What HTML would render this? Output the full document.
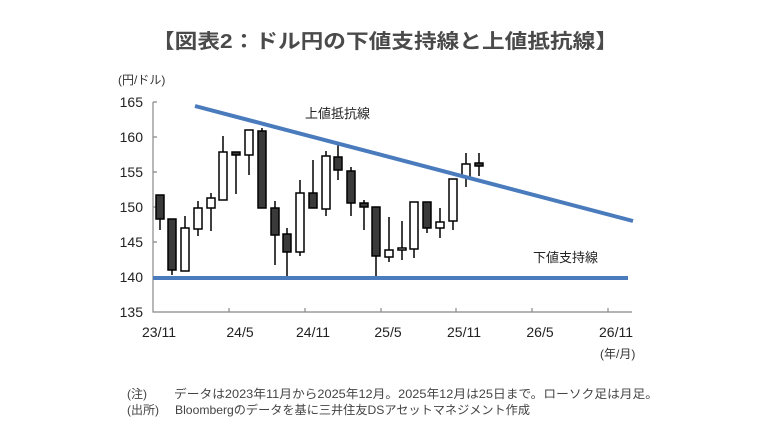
<!DOCTYPE html>
<html><head><meta charset="utf-8"><style>
html,body{margin:0;padding:0;background:#fff;}
svg{display:block;font-family:"Liberation Sans","Noto Sans CJK JP",sans-serif;}
</style></head><body>
<svg width="770" height="433" viewBox="0 0 770 433" xmlns="http://www.w3.org/2000/svg">
<rect width="770" height="433" fill="#fff"/>
<text x="385" y="48" text-anchor="middle" font-size="20" font-weight="bold" fill="#4a4a4a" textLength="466" lengthAdjust="spacingAndGlyphs">【図表2：ドル円の下値支持線と上値抵抗線】</text>
<text x="118" y="84" font-size="12" fill="#333">(円/ドル)</text>
<g font-size="14" fill="#222" text-anchor="end">
<text x="143" y="107">165</text><text x="143" y="142">160</text><text x="143" y="177">155</text>
<text x="143" y="212">150</text><text x="143" y="247">145</text><text x="143" y="282">140</text><text x="143" y="317">135</text>
</g>
<g stroke="#888" stroke-width="1.2" fill="none">
<path d="M153 102 V312 H632"/>
<path d="M153 102 h4 M153 137 h4 M153 172 h4 M153 207 h4 M153 242 h4 M153 277 h4"/>
<path d="M229 312 v-4 M305 312 v-4 M381 312 v-4 M456 312 v-4 M532 312 v-4 M608 312 v-4"/>
</g>
<g font-size="14" fill="#222" text-anchor="middle">
<text x="159" y="337">23/11</text><text x="240" y="337">24/5</text><text x="313" y="337">24/11</text>
<text x="388" y="337">25/5</text><text x="464" y="337">25/11</text><text x="540" y="337">26/5</text><text x="616" y="337">26/11</text>
</g>
<text x="600" y="358" font-size="12" fill="#333">(年/月)</text>
<g stroke="#000" stroke-width="1.5">
<line x1="160" y1="195" x2="160" y2="230"/><rect x="156" y="195" width="8" height="24" fill="#3a3a3a"/>
<line x1="172" y1="219" x2="172" y2="275"/><rect x="168" y="219" width="8" height="51" fill="#3a3a3a"/>
<line x1="185" y1="216" x2="185" y2="271"/><rect x="181" y="228" width="8" height="43" fill="#fff"/>
<line x1="198" y1="201" x2="198" y2="236"/><rect x="194" y="208" width="8" height="21" fill="#fff"/>
<line x1="211" y1="193" x2="211" y2="231"/><rect x="207" y="198" width="8" height="10" fill="#fff"/>
<line x1="223" y1="136" x2="223" y2="200"/><rect x="219" y="152" width="8" height="48" fill="#fff"/>
<line x1="236" y1="152" x2="236" y2="194"/><rect x="232" y="152" width="8" height="3" fill="#3a3a3a"/>
<line x1="249" y1="130" x2="249" y2="175"/><rect x="245" y="130" width="8" height="25" fill="#fff"/>
<line x1="262" y1="128" x2="262" y2="208"/><rect x="258" y="131" width="8" height="77" fill="#3a3a3a"/>
<line x1="275" y1="201" x2="275" y2="265"/><rect x="271" y="208" width="8" height="27" fill="#3a3a3a"/>
<line x1="287" y1="228" x2="287" y2="276"/><rect x="283" y="234" width="8" height="18" fill="#3a3a3a"/>
<line x1="300" y1="180" x2="300" y2="256"/><rect x="296" y="193" width="8" height="59" fill="#fff"/>
<line x1="313" y1="160" x2="313" y2="208"/><rect x="309" y="193" width="8" height="15" fill="#3a3a3a"/>
<line x1="326" y1="151" x2="326" y2="216"/><rect x="322" y="156" width="8" height="53" fill="#fff"/>
<line x1="338" y1="145" x2="338" y2="180"/><rect x="334" y="157" width="8" height="13" fill="#3a3a3a"/>
<line x1="351" y1="167" x2="351" y2="216"/><rect x="347" y="171" width="8" height="32" fill="#3a3a3a"/>
<line x1="364" y1="200" x2="364" y2="230"/><rect x="360" y="203" width="8" height="4" fill="#3a3a3a"/>
<line x1="376" y1="207" x2="376" y2="277"/><rect x="372" y="207" width="8" height="49" fill="#3a3a3a"/>
<line x1="389" y1="217" x2="389" y2="262"/><rect x="385" y="250" width="8" height="7" fill="#fff"/>
<line x1="402" y1="221" x2="402" y2="260"/><rect x="398" y="248" width="8" height="2" fill="#fff"/>
<line x1="414" y1="202" x2="414" y2="258"/><rect x="410" y="202" width="8" height="47" fill="#fff"/>
<line x1="427" y1="202" x2="427" y2="233"/><rect x="423" y="202" width="8" height="26" fill="#3a3a3a"/>
<line x1="440" y1="208" x2="440" y2="238"/><rect x="436" y="222" width="8" height="6" fill="#fff"/>
<line x1="453" y1="179" x2="453" y2="230"/><rect x="449" y="179" width="8" height="42" fill="#fff"/>
<line x1="466" y1="153" x2="466" y2="187"/><rect x="462" y="164" width="8" height="13" fill="#fff"/>
<line x1="479" y1="153" x2="479" y2="176"/><rect x="475" y="163" width="8" height="3" fill="#3a3a3a"/>
</g>
<line x1="195" y1="106" x2="633" y2="221" stroke="#4a7bbd" stroke-width="4"/>
<line x1="153" y1="278" x2="628" y2="278" stroke="#4a7bbd" stroke-width="4"/>
<text x="305" y="118" font-size="13" fill="#222">上値抵抗線</text>
<text x="533" y="262" font-size="13" fill="#222">下値支持線</text>
<g font-size="12" fill="#444">
<text x="127" y="398">(注)</text>
<text x="174" y="398" textLength="484" lengthAdjust="spacingAndGlyphs">データは2023年11月から2025年12月。2025年12月は25日まで。ローソク足は月足。</text>
<text x="127" y="414">(出所)</text>
<text x="175" y="414" textLength="355" lengthAdjust="spacingAndGlyphs">Bloombergのデータを基に三井住友DSアセットマネジメント作成</text>
</g>
</svg>
</body></html>
